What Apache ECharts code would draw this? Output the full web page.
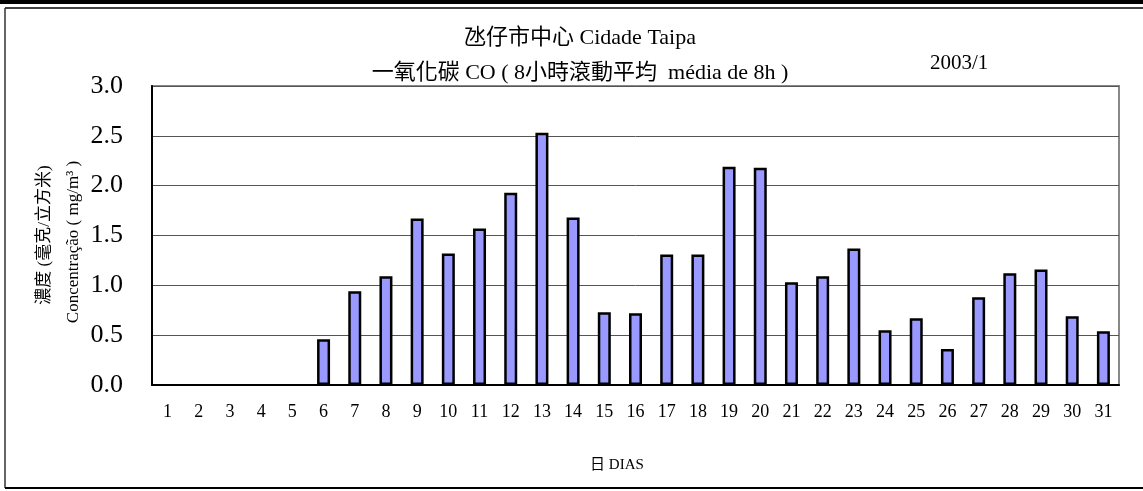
<!DOCTYPE html>
<html>
<head>
<meta charset="utf-8">
<script src="https://cdn.jsdelivr.net/npm/echarts@6/dist/echarts.min.js"></script>
<style>
  html, body { margin: 0; padding: 0; background: #fff; }
  #chart { width: 1143px; height: 491px; }
</style>
</head>
<body>
<div id="chart"></div>
<script>
// Days of the month (January 2003)
const days = ['1','2','3','4','5','6','7','8','9','10','11','12','13','14','15','16',
              '17','18','19','20','21','22','23','24','25','26','27','28','29','30','31'];
// Daily CO, 8-hour rolling average (mg/m³); first five days have no data
const coValues = [null, null, null, null, null, 0.46, 0.94, 1.09, 1.67, 1.32, 1.57, 1.93,
                  2.53, 1.68, 0.73, 0.72, 1.31, 1.31, 2.19, 2.18, 1.03, 1.09, 1.37, 0.55,
                  0.67, 0.36, 0.88, 1.12, 1.16, 0.69, 0.54];
// Value axis ticks
const yTicks = [0, 0.5, 1.0, 1.5, 2.0, 2.5, 3.0];

const titleLines = ['氹仔市中心 Cidade Taipa', '一氧化碳 CO ( 8小時滾動平均  média de 8h )'];
const periodLabel = '2003/1';
const yNameZh = '濃度 (毫克/立方米)';
const yNamePt = 'Concentração ( mg/m³ )';
const xName = '日 DIAS';

const FONT = '"Liberation Serif", "Times New Roman", "Noto Sans CJK TC", serif';

const chart = echarts.init(document.getElementById('chart'), null, { renderer: 'canvas' });

chart.setOption({
  backgroundColor: '#fff',
  animation: false,
  title: [
    {
      text: titleLines.join('\n'),
      left: 575, top: 16, textAlign: 'center',
      textStyle: { fontFamily: FONT, fontSize: 22, fontWeight: 'normal', color: '#000', lineHeight: 35 }
    },
    {
      text: periodLabel,
      left: 925, top: 48,
      textStyle: { fontFamily: FONT, fontSize: 21, fontWeight: 'normal', color: '#000' }
    }
  ],
  grid: {
    left: 152, right: 24, top: 86, bottom: 106,
    show: true, borderColor: '#888', borderWidth: 2, backgroundColor: 'transparent'
  },
  xAxis: {
    type: 'category',
    data: days,
    boundaryGap: true,
    axisLine: { lineStyle: { color: '#000', width: 2 } },
    axisTick: { inside: true, length: 5, lineStyle: { color: '#000', width: 1 } },
    axisLabel: { fontFamily: FONT, fontSize: 18, color: '#000', margin: 18 }
  },
  yAxis: {
    type: 'value',
    min: yTicks[0], max: yTicks[yTicks.length - 1], interval: 0.5,
    axisLine: { show: true, lineStyle: { color: '#000', width: 2 } },
    axisTick: { show: false },
    axisLabel: { fontFamily: FONT, fontSize: 26, color: '#000', margin: 29,
                 formatter: v => v.toFixed(1) },
    splitLine: { show: true, lineStyle: { color: '#555', width: 1 } }
  },
  series: [{
    type: 'bar',
    data: coValues,
    barWidth: 13,
    itemStyle: { color: '#9999FF', borderColor: '#000', borderWidth: 2.5 }
  }],
  graphic: [
    // frame around the chart
    { type: 'rect', shape: { x: 0, y: 0, width: 1143, height: 4 }, style: { fill: '#000' }, silent: true },
    { type: 'line', shape: { x1: 5, y1: 8, x2: 1143, y2: 8 }, style: { stroke: '#000', lineWidth: 1.5 }, silent: true },
    { type: 'line', shape: { x1: 5, y1: 8, x2: 5, y2: 488 }, style: { stroke: '#333', lineWidth: 1.5 }, silent: true },
    { type: 'line', shape: { x1: 5, y1: 488, x2: 1143, y2: 488 }, style: { stroke: '#000', lineWidth: 2 }, silent: true },
    // value-axis name, two rotated lines
    { type: 'text', x: 45, y: 235, rotation: Math.PI / 2,
      style: { text: yNameZh, fontFamily: FONT, fontSize: 17, fill: '#000', align: 'center', verticalAlign: 'middle' } },
    { type: 'text', x: 74, y: 242, rotation: Math.PI / 2,
      style: { text: yNamePt, fontFamily: FONT, fontSize: 17, fill: '#000', align: 'center', verticalAlign: 'middle' } },
    // category-axis name
    { type: 'text', x: 617, y: 465,
      style: { text: xName, fontFamily: FONT, fontSize: 15, fill: '#000', align: 'center', verticalAlign: 'middle' } }
  ]
});
</script>
</body>
</html>
